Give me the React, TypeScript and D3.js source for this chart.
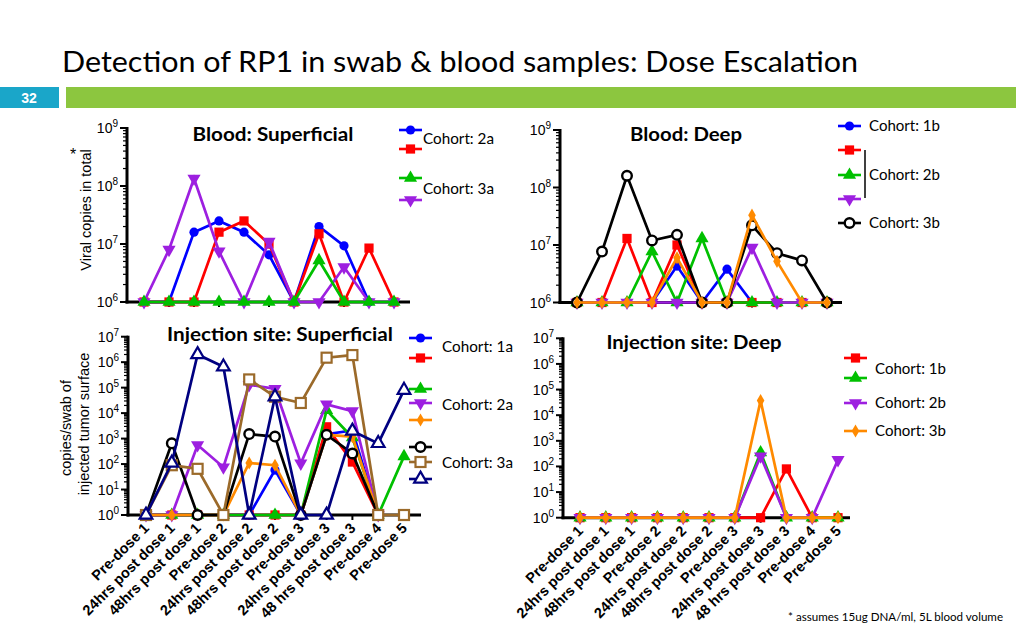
import React from 'react';
import * as d3 from 'd3';

const categories = [
  'Pre-dose 1', '24hrs post dose 1', '48hrs post dose 1', 'Pre-dose 2',
  '24hrs post dose 2', '48hrs post dose 2', 'Pre-dose 3', '24hrs post dose 3',
  '48 hrs post dose 3', 'Pre-dose 4', 'Pre-dose 5',
];

// Blood: Superficial (copies in total)
const bsCohort2aBlue = [1e6, 1e6, 1.6e7, 2.5e7, 1.6e7, 6.5e6, 1e6, 2e7, 9.3e6, 1e6, null];
const bsCohort2aRed = [1e6, 1e6, 1e6, 1.6e7, 2.5e7, 1e7, 1e6, 1.5e7, 1e6, 8.5e6, 1e6];
const bsCohort3aPurple = [1e6, 8e6, 1.35e8, 7.5e6, 1e6, 1.1e7, 1e6, 1e6, 4e6, 1e6, 1e6];
const bsCohort3aGreen = [1e6, 1e6, 1e6, 1e6, 1e6, 1e6, 1e6, 5.2e6, 1e6, 1e6, 1e6];

// Blood: Deep
const bdCohort1bBlue = [1e6, 1e6, 1e6, 1e6, 4.3e6, 1e6, 3.8e6, 1e6, 1e6, 1e6, 1e6];
const bdCohort2bRed = [1e6, 1e6, 1.3e7, 1e6, 1e7, 1e6, 1e6, 1e6, 1e6, 1e6, 1e6];
const bdCohort2bGreen = [1e6, 1e6, 1e6, 7.7e6, 1e6, 1.3e7, 1e6, 1e6, 1e6, 1e6, 1e6];
const bdCohort2bPurple = [1e6, 1e6, 1e6, 1e6, 1e6, 1e6, 1e6, 9e6, 1e6, 1e6, 1e6];
const bdCohort3bBlack = [1e6, 7.7e6, 1.6e8, 1.2e7, 1.5e7, 1e6, 1e6, 2.2e7, 7.2e6, 5.4e6, 1e6];
const bdOrange = [1e6, 1e6, 1e6, 1e6, 6e6, 1e6, 1e6, 3.3e7, 5.2e6, 1e6, 1e6];

// Injection site: Superficial (copies/swab)
const isCohort1aBlue = [1, 1, 1, 1, 1, 58, 1, 1500, 2100, 1, null];
const isCohort1aRed = [1, 1, 1, 1, 1, 1, 1, 2900, 120, 1, null];
const isCohort2aGreen = [1, 1, 1, 1, 1, 1, 1, 13000, 1100, 1, 200];
const isCohort2aPurple = [1, 1, 560, 75, 130000, 90000, 107, 22000, 12000, 1, null];
const isCohort2aOrange = [1, 1, 1, 1, 110, 90, 1, 1400, 1200, 1, null];
const isCohort3aBlack = [1, 650, 1, 1, 1500, 1200, 1, 1400, 260, 1, null];
const isCohort3aBrown = [1, 90, 65, 1, 210000, 44000, 25000, 1500000, 1900000, 1, 1];
const isCohort3aNavy = [1, 110, 2000000, 660000, 1, 44000, 1, 1, 2000, 650, 80000];

// Injection site: Deep
const idCohort1bRed = [1, 1, 1, 1, 1, 1, 1, 1, 80, 1, 1];
const idCohort1bGreen = [1, 1, 1, 1, 1, 1, 1, 350, 1, 1, 1];
const idCohort2bPurple = [1, 1, 1, 1, 1, 1, 1, 250, 1, 1, 180];
const idCohort3bOrange = [1, 1, 1, 1, 1, 1, 1, 37000, 1, 1, 1];

const C = {
  blue: '#0000ff', red: '#ff0000', green: '#00c000', purple: '#9d1fe0',
  orange: '#ff8a00', black: '#000000', brown: '#9b6a2a', navy: '#000080',
};

type Marker = 'circle' | 'square' | 'triUp' | 'triDown' | 'diamond' | 'openCircle' | 'openSquare' | 'openTri';
type Series = { color: string; marker: Marker; values: (number | null)[] };

type PanelCfg = {
  title: string; titleX: number; titleY: number; titleW: number;
  x0: number; x1: number; p0: number; p1: number;
  yTop: number; yBot: number; dMin: number; dMax: number;
  series: Series[]; showX: boolean;
  legend: { s: number; y: number }[];
  legendX: number;
  labels: { text: string; y: number }[];
  labelX: number;
  bracket?: { x: number; y0: number; y1: number };
};

function MarkerShape({ m, x, y, color }: { m: Marker; x: number; y: number; color: string }) {
  const sym = (t: d3.SymbolType, size: number) => d3.symbol().type(t).size(size)() as string;
  switch (m) {
    case 'circle':
      return <circle cx={x} cy={y} r={4.6} fill={color} />;
    case 'square':
      return <path d={sym(d3.symbolSquare, 85)} transform={`translate(${x},${y})`} fill={color} />;
    case 'triUp':
      return <path d={sym(d3.symbolTriangle, 75)} transform={`translate(${x},${y})`} fill={color} />;
    case 'triDown':
      return <path d={sym(d3.symbolTriangle, 75)} transform={`translate(${x},${y}) rotate(180)`} fill={color} />;
    case 'diamond':
      return <path d={sym(d3.symbolDiamond, 50)} transform={`translate(${x},${y})`} fill={color} />;
    case 'openCircle':
      return <circle cx={x} cy={y} r={4.8} fill="#fff" stroke={color} strokeWidth={2.4} />;
    case 'openSquare':
      return <rect x={x - 5} y={y - 5} width={10} height={10} fill="#fff" stroke={color} strokeWidth={2.2} />;
    case 'openTri':
      return <path d={sym(d3.symbolTriangle, 70)} transform={`translate(${x},${y})`} fill="#fff" stroke={color} strokeWidth={2.2} />;
  }
}

const sans = '"Liberation Sans", Arial, sans-serif';
const gothic = 'Lato, "DejaVu Sans", sans-serif';

function Panel({ cfg }: { cfg: PanelCfg }) {
  const x = d3.scalePoint<string>().domain(categories).range([cfg.p0, cfg.p1]);
  const y = d3.scaleLog().domain([10 ** cfg.dMin, 10 ** cfg.dMax]).range([cfg.yBot, cfg.yTop]);
  const line = d3.line<number | null>()
    .defined((d) => d != null)
    .x((_, i) => x(categories[i]) as number)
    .y((d) => y(d as number));
  const majors = d3.range(cfg.dMin, cfg.dMax + 1);
  const minors: number[] = [];
  for (let d = cfg.dMin; d < cfg.dMax; d++) for (let k = 2; k < 10; k++) minors.push(k * 10 ** d);
  return (
    <g>
      <text x={cfg.titleX - cfg.titleW / 2} y={cfg.titleY} fontFamily={gothic} fontWeight="bold" fontSize={19}
        textLength={cfg.titleW} lengthAdjust="spacingAndGlyphs">{cfg.title}</text>
      {/* y axis */}
      <line x1={cfg.x0} x2={cfg.x0} y1={cfg.yTop - 1} y2={cfg.yBot + 1.5} stroke="#000" strokeWidth={3} />
      {minors.map((v, i) => (
        <line key={'mn' + i} x1={cfg.x0 - 4} x2={cfg.x0} y1={y(v)} y2={y(v)} stroke="#000" strokeWidth={1.2} />
      ))}
      {majors.map((d) => (
        <g key={'mj' + d}>
          <line x1={cfg.x0 - 7} x2={cfg.x0} y1={y(10 ** d)} y2={y(10 ** d)} stroke="#000" strokeWidth={2} />
          <text x={cfg.x0 - 9} y={y(10 ** d) + 5} textAnchor="end" fontFamily={sans} fontSize={14}>
            10<tspan dy={-6} fontSize={10}>{d}</tspan>
          </text>
        </g>
      ))}
      {/* x axis */}
      <line x1={cfg.x0 - 1.5} x2={cfg.x1} y1={cfg.yBot} y2={cfg.yBot} stroke="#000" strokeWidth={3} />
      {categories.map((c) => (
        <line key={'xt' + c} x1={x(c)} x2={x(c)} y1={cfg.yBot} y2={cfg.yBot + 5} stroke="#000" strokeWidth={2} />
      ))}
      {cfg.showX && categories.map((c) => (
        <text key={'xl' + c} transform={`translate(${(x(c) as number) + 4},${cfg.yBot + 14}) rotate(-45)`}
          textAnchor="end" fontFamily={sans} fontWeight="bold" fontSize={14.5}>{c}</text>
      ))}
      {/* series */}
      {cfg.series.map((s, si) => (
        <g key={'s' + si}>
          <path d={line(s.values) as string} fill="none" stroke={s.color} strokeWidth={2.7} strokeLinejoin="miter" />
          {s.values.map((v, i) => v == null ? null : (
            <MarkerShape key={i} m={s.marker} x={x(categories[i]) as number} y={y(v)} color={s.color} />
          ))}
        </g>
      ))}
      {/* legend */}
      {cfg.legend.map((l, i) => {
        const s = cfg.series[l.s];
        return (
          <g key={'lg' + i}>
            <line x1={cfg.legendX} x2={cfg.legendX + 23} y1={l.y} y2={l.y} stroke={s.color} strokeWidth={2.6} />
            <MarkerShape m={s.marker} x={cfg.legendX + 11.5} y={l.y} color={s.color} />
          </g>
        );
      })}
      {cfg.labels.map((l, i) => (
        <text key={'lb' + i} x={cfg.labelX} y={l.y + 5} fontFamily={gothic} fontSize={15}
          textLength={71} lengthAdjust="spacingAndGlyphs">{l.text}</text>
      ))}
      {cfg.bracket && (
        <line x1={cfg.bracket.x} x2={cfg.bracket.x} y1={cfg.bracket.y0} y2={cfg.bracket.y1} stroke="#000" strokeWidth={1.5} />
      )}
    </g>
  );
}

const panels: PanelCfg[] = [
  {
    title: 'Blood: Superficial', titleX: 273, titleY: 141, titleW: 161,
    x0: 127, x1: 410, p0: 144, p1: 394, yTop: 128, yBot: 302, dMin: 6, dMax: 9, showX: false,
    series: [
      { color: C.blue, marker: 'circle', values: bsCohort2aBlue },
      { color: C.red, marker: 'square', values: bsCohort2aRed },
      { color: C.purple, marker: 'triDown', values: bsCohort3aPurple },
      { color: C.green, marker: 'triUp', values: bsCohort3aGreen },
    ],
    legendX: 399, legend: [{ s: 0, y: 130 }, { s: 1, y: 149 }, { s: 3, y: 178 }, { s: 2, y: 200 }],
    labelX: 423, labels: [{ text: 'Cohort: 2a', y: 139 }, { text: 'Cohort: 3a', y: 189 }],
  },
  {
    title: 'Blood: Deep', titleX: 686, titleY: 141, titleW: 112,
    x0: 560, x1: 842, p0: 577, p1: 827, yTop: 130, yBot: 302.5, dMin: 6, dMax: 9, showX: false,
    series: [
      { color: C.blue, marker: 'circle', values: bdCohort1bBlue },
      { color: C.red, marker: 'square', values: bdCohort2bRed },
      { color: C.green, marker: 'triUp', values: bdCohort2bGreen },
      { color: C.purple, marker: 'triDown', values: bdCohort2bPurple },
      { color: C.black, marker: 'openCircle', values: bdCohort3bBlack },
      { color: C.orange, marker: 'diamond', values: bdOrange },
    ],
    legendX: 838, legend: [{ s: 0, y: 126 }, { s: 1, y: 150 }, { s: 2, y: 175 }, { s: 3, y: 199 }, { s: 4, y: 223 }],
    labelX: 869, labels: [{ text: 'Cohort: 1b', y: 126 }, { text: 'Cohort: 2b', y: 175 }, { text: 'Cohort: 3b', y: 223 }],
    bracket: { x: 865, y0: 150, y1: 198 },
  },
  {
    title: 'Injection site: Superficial', titleX: 280, titleY: 341, titleW: 226,
    x0: 128, x1: 421, p0: 146, p1: 404, yTop: 336.7, yBot: 515, dMin: 0, dMax: 7, showX: true,
    series: [
      { color: C.blue, marker: 'circle', values: isCohort1aBlue },
      { color: C.red, marker: 'square', values: isCohort1aRed },
      { color: C.green, marker: 'triUp', values: isCohort2aGreen },
      { color: C.purple, marker: 'triDown', values: isCohort2aPurple },
      { color: C.orange, marker: 'diamond', values: isCohort2aOrange },
      { color: C.black, marker: 'openCircle', values: isCohort3aBlack },
      { color: C.brown, marker: 'openSquare', values: isCohort3aBrown },
      { color: C.navy, marker: 'openTri', values: isCohort3aNavy },
    ],
    legendX: 409, legend: [
      { s: 0, y: 338 }, { s: 1, y: 358 }, { s: 2, y: 389 }, { s: 3, y: 403 }, { s: 4, y: 420 },
      { s: 5, y: 447 }, { s: 6, y: 462 }, { s: 7, y: 479 },
    ],
    labelX: 442, labels: [{ text: 'Cohort: 1a', y: 347 }, { text: 'Cohort: 2a', y: 405 }, { text: 'Cohort: 3a', y: 463 }],
  },
  {
    title: 'Injection site: Deep', titleX: 694, titleY: 349, titleW: 175,
    x0: 563, x1: 850, p0: 580, p1: 838, yTop: 338.3, yBot: 517.7, dMin: 0, dMax: 7, showX: true,
    series: [
      { color: C.red, marker: 'square', values: idCohort1bRed },
      { color: C.green, marker: 'triUp', values: idCohort1bGreen },
      { color: C.purple, marker: 'triDown', values: idCohort2bPurple },
      { color: C.orange, marker: 'diamond', values: idCohort3bOrange },
    ],
    legendX: 844, legend: [{ s: 0, y: 358 }, { s: 1, y: 378 }, { s: 2, y: 403 }, { s: 3, y: 431 }],
    labelX: 875, labels: [{ text: 'Cohort: 1b', y: 369 }, { text: 'Cohort: 2b', y: 403 }, { text: 'Cohort: 3b', y: 431 }],
  },
];

export default function App() {
  return (
    <svg width={1016} height={635} style={{ position: 'absolute', left: 0, top: 0, background: '#fff' }}>
      <rect x={0} y={0} width={1016} height={635} fill="#fff" />
      <text x={62} y={72} fontFamily={gothic} fontSize={28} fill="#000" textLength={796} lengthAdjust="spacingAndGlyphs">
        Detection of RP1 in swab &amp; blood samples: Dose Escalation
      </text>
      <rect x={0} y={87} width={59} height={21} fill="#1aa6c9" />
      <text x={29} y={103} textAnchor="middle" fontFamily={sans} fontWeight="bold" fontSize={14} fill="#fff">32</text>
      <rect x={66} y={87} width={950} height={21} fill="#8cc63f" />

      {/* y axis titles */}
      <text transform="translate(91,210) rotate(-90)" textAnchor="middle" fontFamily={sans} fontSize={14.5}>Viral copies in total</text>
      <text x={73} y={160} textAnchor="middle" fontFamily={sans} fontSize={16}>*</text>
      <text transform="translate(71,428) rotate(-90)" textAnchor="middle" fontFamily={sans} fontSize={14.5}>copies/swab of</text>
      <text transform="translate(89,424) rotate(-90)" textAnchor="middle" fontFamily={sans} fontSize={14.5}>injected tumor surface</text>

      {panels.map((p, i) => <Panel key={i} cfg={p} />)}

      <text x={788} y={621} fontFamily={gothic} fontSize={12} textLength={215} lengthAdjust="spacingAndGlyphs">* assumes 15ug DNA/ml, 5L blood volume</text>
    </svg>
  );
}
